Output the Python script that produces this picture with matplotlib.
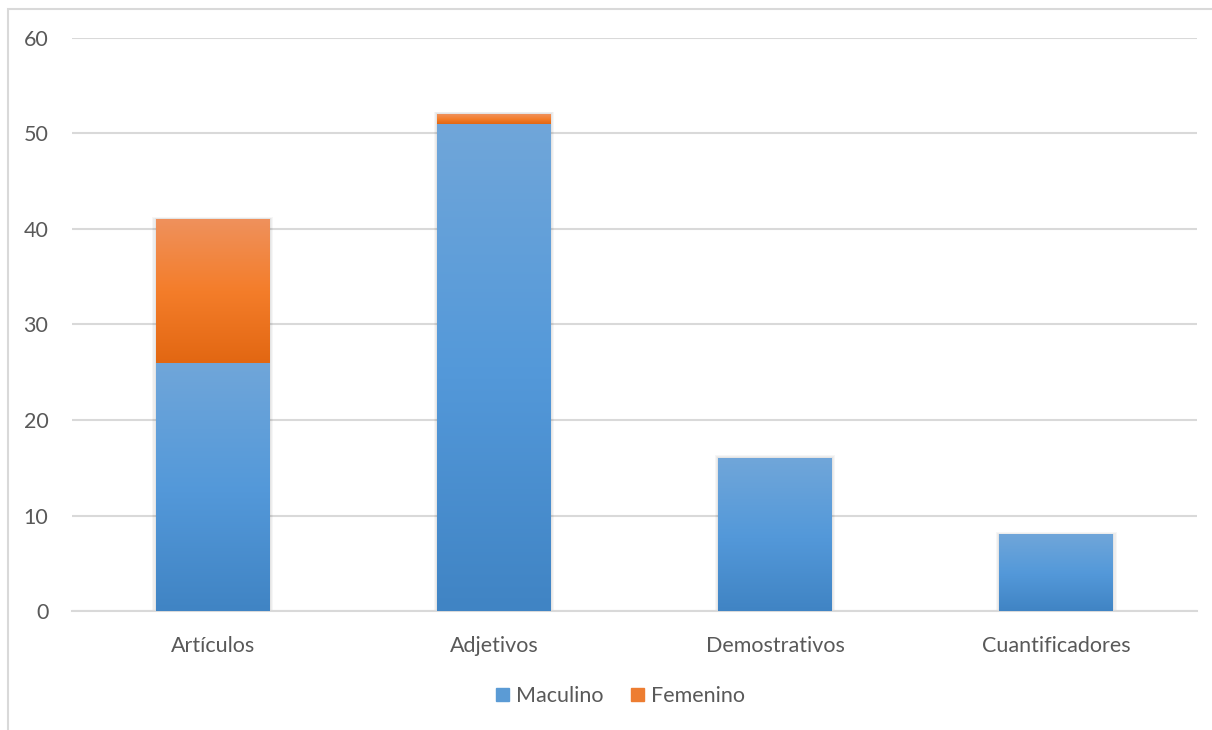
import numpy as np
import matplotlib.pyplot as plt
from matplotlib.colors import LinearSegmentedColormap
from matplotlib.patches import Patch, Rectangle

categorias = ['Artículos', 'Adjetivos', 'Demostrativos', 'Cuantificadores']
maculino = [26, 51, 16, 8]
femenino = [15, 1, 0, 0]
series = ['Maculino', 'Femenino']

plt.rcParams['font.family'] = ['Lato', 'DejaVu Sans']

# degradados verticales estilo Office (abajo -> arriba)
grad_azul = LinearSegmentedColormap.from_list('azul', ['#4084c4', '#5499da', '#70a6d9'])
grad_naranja = LinearSegmentedColormap.from_list('naranja', ['#e26712', '#f47d2a', '#ef915c'])
grad = np.linspace(0, 1, 256).reshape(-1, 1)

fig = plt.figure(figsize=(12.12, 7.30), dpi=100)
ax = fig.add_axes([72 / 1212, 1 - 611 / 730, 1125 / 1212, 573 / 730])

ancho = 0.405
x = np.arange(len(categorias))


def sombra(xc, alto):
    x0 = xc - ancho / 2
    for k in range(1, 4):
        d = 0.004 * k
        ax.add_patch(Rectangle((x0 - d, -0.1 * k), ancho + 2 * d, alto + 0.2 * k,
                               color='black', alpha=0.035, lw=0, zorder=2))


def barra(xc, base, alto, cmap):
    if alto <= 0:
        return
    x0, x1 = xc - ancho / 2, xc + ancho / 2
    ax.imshow(grad, cmap=cmap, origin='lower', aspect='auto',
              extent=[x0, x1, base, base + alto], zorder=3,
              interpolation='bilinear')


for i in range(len(categorias)):
    sombra(x[i], maculino[i] + femenino[i])
    barra(x[i], 0, maculino[i], grad_azul)
    barra(x[i], maculino[i], femenino[i], grad_naranja)

ax.set_xlim(-0.5, len(categorias) - 0.5)
ax.set_ylim(0, 60)
ax.set_yticks(range(0, 61, 10))
ax.set_xticks(x)
ax.set_xticklabels(categorias)
ax.grid(axis='y', color='#d9d9d9', linewidth=1.5, zorder=0)
ax.set_axisbelow(True)
for s in ['top', 'right', 'left']:
    ax.spines[s].set_visible(False)
ax.spines['bottom'].set_color('#d9d9d9')
ax.spines['bottom'].set_linewidth(1.5)
ax.tick_params(axis='both', length=0, labelsize=15.5, colors='#595959')
ax.tick_params(axis='y', pad=17)
ax.tick_params(axis='x', pad=18)

# marco del gráfico
fig.add_artist(Rectangle((8 / 1212, -0.1), 1.2, 1.1 - 9 / 730, transform=fig.transFigure,
                         fill=False, edgecolor='#d9d9d9', linewidth=1.5))

handles = [Patch(color='#5b9bd5', label=series[0]),
           Patch(color='#ed7d31', label=series[1])]
leg = fig.legend(handles=handles, loc='center', bbox_to_anchor=(0.512, 1 - 696 / 730),
                 ncol=2, frameon=False, fontsize=15.5, handlelength=0.6, handleheight=0.6,
                 handletextpad=0.3, columnspacing=1.3)
for t in leg.get_texts():
    t.set_color('#595959')

fig.savefig('out.png', dpi=100)
